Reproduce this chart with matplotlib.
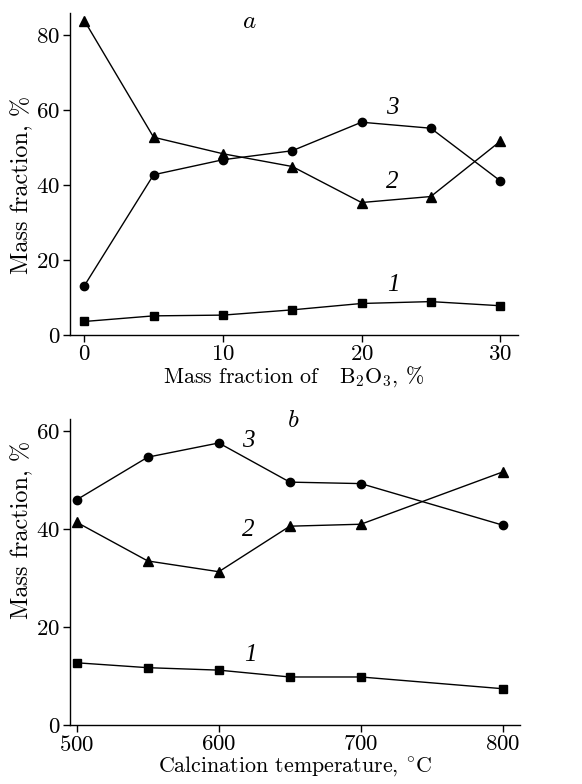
import matplotlib
matplotlib.use("Agg")
import matplotlib.pyplot as plt

plt.rcParams['font.family'] = 'serif'
plt.rcParams['font.serif'] = ['cmr10']
plt.rcParams['mathtext.fontset'] = 'cm'
plt.rcParams['axes.formatter.use_mathtext'] = True
plt.rcParams['axes.unicode_minus'] = False

# Panel a: mass fraction of B2O3
b2o3 = [0, 5, 10, 15, 20, 25, 30]
a_s1 = [3.6, 5.1, 5.3, 6.7, 8.4, 8.9, 7.8]
a_s2 = [83.8, 52.7, 48.3, 44.9, 35.3, 36.9, 51.6]
a_s3 = [13.1, 42.7, 46.7, 49.1, 56.7, 55.1, 41.1]
a_xticks = [0, 10, 20, 30]
a_yticks = [0, 20, 40, 60, 80]

# Panel b: calcination temperature
temp = [500, 550, 600, 650, 700, 800]
b_s1 = [12.7, 11.7, 11.2, 9.8, 9.8, 7.4]
b_s2 = [41.4, 33.5, 31.3, 40.6, 41.0, 51.7]
b_s3 = [46.0, 54.7, 57.6, 49.6, 49.3, 40.8]
b_xticks = [500, 600, 700, 800]
b_yticks = [0, 20, 40, 60]

FS = 16.5
LFS = 15.8
ITFONT = dict(family='Liberation Serif', style='italic', fontsize=18)

fig = plt.figure(figsize=(5.82, 7.84), dpi=100)
ax1 = fig.add_axes([0.1203, 0.5727, 0.770, 0.4107])
ax2 = fig.add_axes([0.1203, 0.0753, 0.7732, 0.3903])

def style(ax):
    for s in ['top', 'right']:
        ax.spines[s].set_visible(False)
    for s in ['left', 'bottom']:
        ax.spines[s].set_linewidth(1.0)
    ax.tick_params(direction='out', length=5, width=1.0, labelsize=FS, pad=2)

def draw(ax, x, s1, s2, s3):
    ax.plot(x, s1, '-', color='black', lw=1.0, marker='s', ms=6, clip_on=False)
    ax.plot(x, s2, '-', color='black', lw=1.0, marker='^', ms=7, clip_on=False)
    ax.plot(x, s3, '-', color='black', lw=1.0, marker='o', ms=6, clip_on=False)

draw(ax1, b2o3, a_s1, a_s2, a_s3)
style(ax1)
ax1.set_xlim(-1.03, 31.3)
ax1.set_ylim(0, 85.8)
ax1.set_xticks(a_xticks)
ax1.set_yticks(a_yticks)
ax1.set_xlabel(r'Mass fraction of   B$_2$O$_3$, %', fontsize=LFS, labelpad=0)
ax1.set_ylabel('Mass fraction, %', fontsize=17.5)
ax1.yaxis.set_label_coords(-0.083, 0.466)
ax1.text(11.9, 83.5, r'$a$', fontsize=18, ha='center', va='center')
ax1.text(22.2, 60.4, '3', ha='center', va='center', **ITFONT)
ax1.text(22.2, 40.9, '2', ha='center', va='center', **ITFONT)
ax1.text(22.3, 13.3, '1', ha='center', va='center', **ITFONT)

draw(ax2, temp, b_s1, b_s2, b_s3)
style(ax2)
ax2.set_xlim(495.3, 812)
ax2.set_ylim(0, 62.5)
ax2.set_xticks(b_xticks)
ax2.set_yticks(b_yticks)
ax2.set_xlabel(r'Calcination temperature, $^{\circ}\mathrm{C}$', fontsize=LFS, labelpad=0)
ax2.set_ylabel('Mass fraction, %', fontsize=17.5)
ax2.yaxis.set_label_coords(-0.081, 0.637)
ax2.text(652.6, 62.0, r'$b$', fontsize=18, ha='center', va='center')
ax2.text(620.9, 58.1, '3', ha='center', va='center', **ITFONT)
ax2.text(620.9, 39.9, '2', ha='center', va='center', **ITFONT)
ax2.text(622.0, 14.3, '1', ha='center', va='center', **ITFONT)

fig.savefig('out.png', dpi=100)
